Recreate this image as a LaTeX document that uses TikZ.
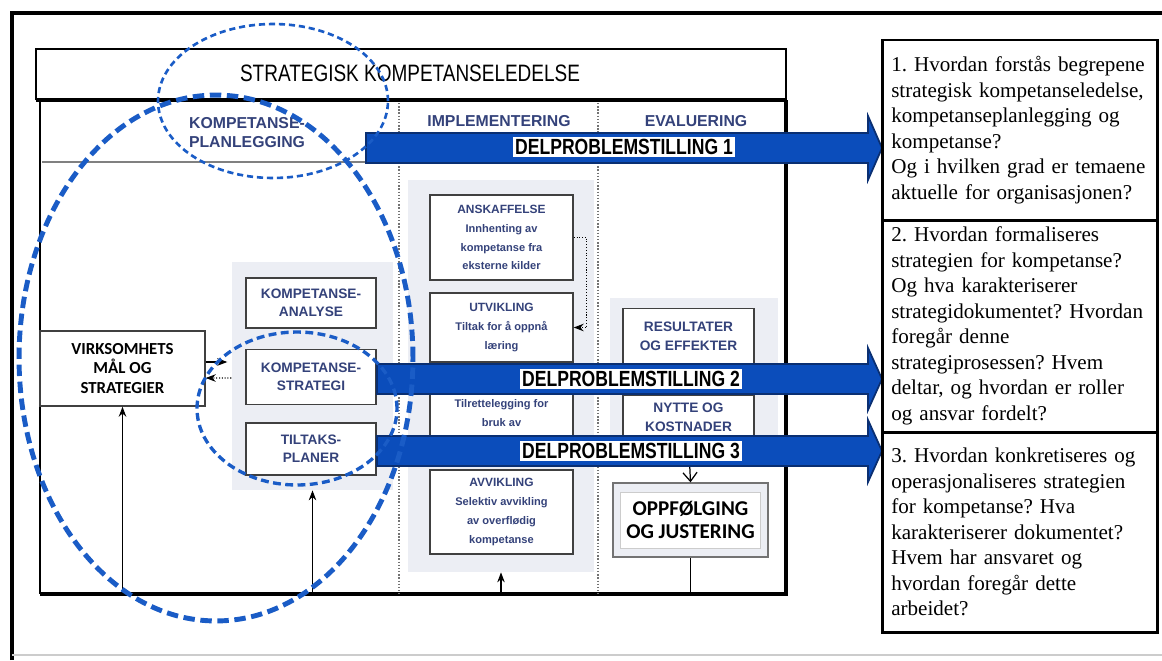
\documentclass[tikz,border=0pt]{standalone}
\usepackage{fontspec}
\setmainfont{Liberation Serif}
\setsansfont{Liberation Sans}
\newfontfamily\narrowsans[FakeStretch=0.8]{Liberation Sans}
\newfontfamily\calsans{Carlito}
\usetikzlibrary{arrows.meta,calc}

\definecolor{navy}{HTML}{34427A}
\definecolor{dpblue}{HTML}{0B4DBB}
\definecolor{dpedge}{HTML}{0A2F72}
\definecolor{ringblue}{HTML}{1A5CC6}
\definecolor{panel}{HTML}{ECEEF4}
\frenchspacing

\begin{document}
\begin{tikzpicture}[x=0.02cm, y=-0.02cm, >=Stealth,
	sized/.style args={#1x#2}{minimum width=#1*0.02cm, minimum height=#2*0.02cm},
	box/.style={draw=black!75, line width=0.8pt, fill=white, align=center, inner sep=1pt},
	panelbox/.style={fill=panel, inner sep=0pt},
	kbox/.style={box, text=navy, font=\sffamily\bfseries\fontsize{7.8}{10.2}\selectfont},
	ibox/.style={box, text=navy, font=\sffamily\bfseries\fontsize{6.3}{10.7}\selectfont},
	ebox/.style={box, text=navy, font=\sffamily\bfseries\fontsize{7.8}{10.8}\selectfont},
	header/.style={text=navy, align=center, font=\sffamily\bfseries\fontsize{9}{10.8}\selectfont},
	dplabel/.style={fill=white, inner sep=1pt, font=\narrowsans\bfseries\fontsize{12.5}{13}\selectfont},
	dparrow/.style={fill=dpblue, draw=dpedge, line width=1pt, line join=miter},
	ring/.style={draw=ringblue, line cap=butt},
	question/.style={draw=black, line width=1.7pt, fill=white, text width=5.15cm, inner xsep=0.175cm,
		align=left, font=\rmfamily\fontsize{12}{14.5}\selectfont}]
	
	% parameters
	\def\headx{868}   % where the arrow heads start
	\def\tipx{882}    % arrow tips
	
	\useasboundingbox (0,0) rectangle (1162,660);
	
	% outer frame
	\draw[line width=2.2pt] (12,660) -- (12,13) -- (1162,13);
	\draw[black!20, line width=0.6pt] (12,655) -- (1162,655);
	
	% title box
	\draw[line width=0.9pt] (36,100) -- (36,49) -- (786,49) -- (786,100);
	\draw[line width=1.6pt] (36,49) -- (786,49);
	\node[font=\narrowsans\fontsize{13.5}{14}\selectfont] (title) at (410,73) {STRATEGISK KOMPETANSELEDELSE};
	
	% body
	\coordinate (bodybottom) at (40,594);
	\draw[line width=1.8pt] (36,100) -- (786,100);
	\draw[line width=0.9pt] (40,100) -- (bodybottom);
	\draw[line width=1.8pt] (bodybottom) -- (786,594) -- (786,100);
	\draw[black!50, line width=0.6pt] (42,162) -- (366,162);
	\draw[black!55, densely dotted, line width=0.8pt] (399,103) -- (399,594);
	\draw[black!55, densely dotted, line width=0.8pt] (598,103) -- (598,594);
	
	% column headers
	\node[header] (planhead) at (247,133) {KOMPETANSE-\\PLANLEGGING};
	\node[header] (implhead) at (499,121) {IMPLEMENTERING};
	\node[header] (evalhead) at (696,121) {EVALUERING};
	
	% light panels
	\node[panelbox, sized=161x228] (kpanel) at (312.5,376) {};
	\node[panelbox, sized=186x392] (ipanel) at (501,376) {};
	\node[panelbox, sized=168x144] (epanel) at (694,370) {};
	
	% planning boxes
	\node[box, sized=165x75, font=\calsans\bfseries\fontsize{9.6}{11.3}\selectfont] (virk) at (122.5,368.5)
	{VIRKSOMHETS\\MÅL OG\\STRATEGIER};
	\node[kbox, sized=130x50] (kanalyse) at (311,303) {KOMPETANSE-\\ANALYSE};
	\node[kbox, sized=130x55] (kstrategi) at (311,377) {KOMPETANSE-\\STRATEGI};
	\node[kbox, sized=130x52] (tiltak) at (311,449) {TILTAKS-\\PLANER};
	
	% implementation boxes
	\node[ibox, sized=143x85] (anskaff) at (501.5,237.5)
	{{\fontsize{6.8}{10.7}\selectfont ANSKAFFELSE}\\Innhenting av\\kompetanse fra\\eksterne kilder};
	\node[ibox, sized=143x69] (utvikl) at (501.5,327.5)
	{{\fontsize{6.8}{10.7}\selectfont UTVIKLING}\\Tiltak for å oppnå\\læring};
	\node[ibox, sized=143x55] (tilrett) at (501.5,413)
	{Tilrettelegging for\\bruk av};
	\node[ibox, sized=143x84] (avvikl) at (501.5,512)
	{{\fontsize{6.8}{10.7}\selectfont AVVIKLING}\\Selektiv avvikling\\av overflødig\\kompetanse};
	
	% evaluation boxes
	\node[ebox, sized=131x56] (resultat) at (688.5,336.5) {RESULTATER\\OG EFFEKTER};
	\node[ebox, sized=131x44] (nytte) at (688.5,417) {NYTTE OG\\KOSTNADER};
	\node[box, draw=black!55, fill=panel, sized=155x74] (oppfolg) at (690.5,520) {};
	\node[draw=black!20, fill=white, sized=137x56, align=center,
		font=\calsans\bfseries\fontsize{12}{13}\selectfont] (oppfolgtext) at (oppfolg) {OPPFØLGING\\OG JUSTERING};
	
	% connectors
	\draw[->, line width=0.6pt] ($(virk.east)+(0,-6.5)$) -- ($(kstrategi.west)+(-18,-15)$);
	\draw[->, densely dotted, line width=0.6pt] ($(kstrategi.west)+(-14,1)$) -- ($(virk.east)+(0,9.5)$);
	\draw[->, line width=0.6pt] (virk.south |- bodybottom) -- (virk.south);
	\draw[->, line width=0.6pt] (kpanel.south |- bodybottom) -- (kpanel.south);
	\draw[->, line width=0.6pt] (ipanel.south |- bodybottom) -- (ipanel.south);
	\draw[line width=0.6pt] (oppfolg.south) -- (oppfolg.south |- bodybottom);
	\draw[->, densely dotted, line width=0.6pt] (anskaff.east) -- ++(13,0) |- (utvikl.east);
	\draw[-{Straight Barb[length=5pt,width=8pt]}, line width=0.7pt] (nytte.south) -- (oppfolg.north);
	
	% delproblemstilling arrows
	\draw[dparrow] (366,133) -- (\headx,133) -- (\headx,116) -- (\tipx,148) -- (\headx,180) -- (\headx,163) -- (366,163) -- cycle;
	\draw[dparrow] (377,364) -- (\headx,364) -- (\headx,348) -- (\tipx,379) -- (\headx,410) -- (\headx,394) -- (377,394) -- cycle;
	\draw[dparrow] (377,436) -- (\headx,436) -- (\headx,420) -- (\tipx,451) -- (\headx,482) -- (\headx,466) -- (377,466) -- cycle;
	\node[dplabel] (dp1) at (624,147) {DELPROBLEMSTILLING 1};
	\node[dplabel] (dp2) at (631,379) {DELPROBLEMSTILLING 2};
	\node[dplabel] (dp3) at (631,451) {DELPROBLEMSTILLING 3};
	
	% dashed rings
	\draw[ring, line width=1.5pt, dash pattern=on 3.5pt off 2.2pt] (273,101) ellipse [x radius=2.3cm, y radius=1.54cm];
	\draw[ring, line width=2.8pt, dash pattern=on 6.5pt off 3.2pt] (216,358) ellipse [x radius=3.94cm, y radius=5.26cm];
	\draw[ring, line width=1.9pt, dash pattern=on 4.5pt off 2.5pt] (297,408.5) ellipse [x radius=2.0cm, y radius=1.53cm];
	
	% questions
	\node[question, sized=274x180] (q1) at (1020,130)
	{1. Hvordan forstås begrepene\\strategisk kompetanseledelse,\\kompetanseplanlegging og\\kompetanse?\\Og i hvilken grad er temaene\\aktuelle for organisasjonen?};
	\node[question, sized=274x212] (q2) at (1020,326)
	{2. Hvordan formaliseres\\strategien for kompetanse?\\Og hva karakteriserer\\strategidokumentet? Hvordan\\foregår denne\\strategiprosessen? Hvem\\deltar, og hvordan er roller\\og ansvar fordelt?};
	\node[question, sized=274x200] (q3) at (1020,532)
	{3. Hvordan konkretiseres og\\operasjonaliseres strategien\\for kompetanse? Hva\\karakteriserer dokumentet?\\Hvem har ansvaret og\\hvordan foregår dette\\arbeidet?};
\end{tikzpicture}
\end{document}
